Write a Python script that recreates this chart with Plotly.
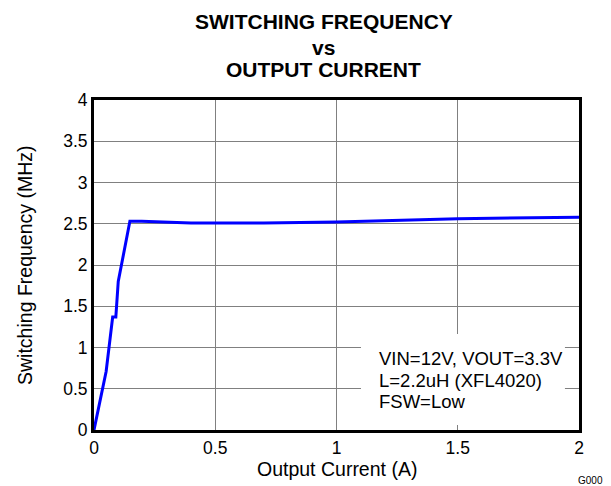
import plotly.graph_objects as go

current_a = [0.0, 0.014, 0.05, 0.077, 0.09, 0.10, 0.114, 0.148, 0.197, 0.4, 0.7, 1.0, 1.5, 2.0]
freq_mhz = [0.0, 0.2, 0.71, 1.37, 1.37, 1.8, 2.02, 2.53, 2.53, 2.51, 2.51, 2.52, 2.56, 2.58]

x_ticks = [0, 0.5, 1, 1.5, 2]
x_tick_labels = ["0", "0.5", "1", "1.5", "2"]
y_ticks = [0, 0.5, 1, 1.5, 2, 2.5, 3, 3.5, 4]
y_tick_labels = ["0", "0.5", "1", "1.5", "2", "2.5", "3", "3.5", "4"]

title_lines = ["SWITCHING FREQUENCY", "vs", "OUTPUT CURRENT"]
note_lines = ["VIN=12V, VOUT=3.3V", "L=2.2uH (XFL4020)", "FSW=Low"]

font = "Liberation Sans, Arial, sans-serif"

fig = go.Figure()
fig.add_trace(go.Scatter(x=current_a, y=freq_mhz, mode="lines",
                         line=dict(color="#0000ff", width=3), showlegend=False))

fig.update_layout(
    width=603, height=478,
    margin=dict(l=86, r=32, t=92, b=56),
    paper_bgcolor="white", plot_bgcolor="white",
    font=dict(family=font, size=18, color="black"),
    xaxis=dict(range=[0, 2], tickvals=x_ticks, ticktext=x_tick_labels,
               showgrid=True, gridcolor="#808080", gridwidth=1,
               showline=True, linecolor="black", linewidth=3, mirror=True,
               zeroline=False, ticks="", tickfont=dict(size=17.5)),
    yaxis=dict(range=[0, 4], tickvals=y_ticks, ticktext=y_tick_labels,
               showgrid=True, gridcolor="#808080", gridwidth=1,
               showline=True, linecolor="black", linewidth=3, mirror=True,
               zeroline=False, ticks="", tickfont=dict(size=17.5)),
)

# axis titles
fig.add_annotation(xref="paper", yref="paper", x=0.501, y=-0.118, xanchor="center",
                   yanchor="middle", showarrow=False, text="Output Current (A)",
                   font=dict(family=font, size=19.5, color="black"))
fig.add_annotation(xref="paper", yref="paper", x=-0.1423, y=0.5, xanchor="center",
                   yanchor="middle", showarrow=False, textangle=-90,
                   text="Switching Frequency (MHz)",
                   font=dict(family=font, size=19.5, color="black"))

# title lines
for txt, yy in zip(title_lines, [1.2385, 1.1600, 1.0928]):
    fig.add_annotation(xref="paper", yref="paper", x=0.474, y=yy, xanchor="center",
                       yanchor="middle", showarrow=False, text="<b>" + txt + "</b>",
                       font=dict(family=font, size=21, color="black"))

# condition box
fig.add_shape(type="rect", xref="x", yref="y", x0=1.101, x1=1.942, y0=0.06, y1=1.164,
              fillcolor="white", line=dict(width=0), layer="above")
for txt, yy in zip(note_lines, [0.872, 0.600, 0.345]):
    fig.add_annotation(xref="x", yref="y", x=1.168, y=yy, xanchor="left", yanchor="middle",
                       showarrow=False, text=txt,
                       font=dict(family=font, size=18.5, color="black"))

fig.add_annotation(xref="paper", yref="paper", x=1.0247, y=-0.1545, xanchor="center",
                   yanchor="middle", showarrow=False, text="G000",
                   font=dict(family=font, size=10, color="black"))

fig.write_html("out.html")
